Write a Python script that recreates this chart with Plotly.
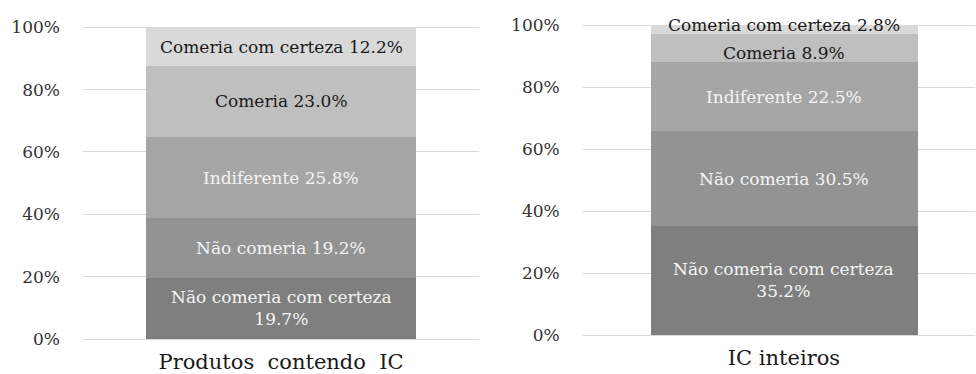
import plotly.graph_objects as go

categories = ["Não comeria com certeza", "Não comeria", "Indiferente", "Comeria", "Comeria com certeza"]
produtos_ic = [19.7, 19.2, 25.8, 23.0, 12.2]
ic_inteiros = [35.2, 30.5, 22.5, 8.9, 2.8]
panel_labels = ["Produtos  contendo  IC", "IC inteiros"]
tick_vals = [0, 20, 40, 60, 80, 100]
tick_text = ["0%", "20%", "40%", "60%", "80%", "100%"]

colors = ["#7f7f7f", "#939393", "#a6a6a6", "#bfbfbf", "#d9d9d9"]
text_colors = ["#f4f4f4", "#f4f4f4", "#f4f4f4", "#1a1a1a", "#1a1a1a"]
FONT = "DejaVu Serif"

label_texts = {
    0: ["Não comeria com certeza<br>19.7%", "Não comeria 19.2%", "Indiferente 25.8%",
        "Comeria 23.0%", "Comeria com certeza 12.2%"],
    1: ["Não comeria com certeza<br>35.2%", "Não comeria 30.5%", "Indiferente 22.5%",
        "Comeria 8.9%", "Comeria com certeza 2.8%"],
}

fig = go.Figure()
for p, (vals, lab) in enumerate([(produtos_ic, panel_labels[0]), (ic_inteiros, panel_labels[1])]):
    xa = "x" if p == 0 else "x2"
    ya = "y" if p == 0 else "y2"
    for i, cat in enumerate(categories):
        fig.add_trace(go.Bar(
            x=[lab], y=[vals[i]], name=cat, xaxis=xa, yaxis=ya,
            marker=dict(color=colors[i], line=dict(width=0)),
            width=0.68,
            showlegend=False,
            hoverinfo="skip",
        ))
    cum = 0
    for i, cat in enumerate(categories):
        mid = cum + vals[i] / 2
        cum += vals[i]
        ypos = mid
        if p == 1 and i == 4:
            ypos = 100.0
        if p == 1 and i == 3:
            ypos = mid - 1.5
        fig.add_annotation(
            x=lab, y=ypos, xref=xa, yref=ya, text=label_texts[p][i],
            showarrow=False, font=dict(family=FONT, size=17, color=text_colors[i]),
            align="center",
        )

shift = 0.013
fig.update_layout(
    barmode="stack",
    width=976, height=374,
    margin=dict(l=0, r=0, t=0, b=0),
    paper_bgcolor="white", plot_bgcolor="white",
    font=dict(family=FONT, size=17, color="#333333"),
    bargap=0,
    xaxis=dict(domain=[0.085, 0.491], showgrid=False, zeroline=False, automargin=False,
               tickfont=dict(family=FONT, size=21, color="#1a1a1a"), ticks="", showline=False,
               ticklabelstandoff=8),
    xaxis2=dict(domain=[0.597, 0.999], showgrid=False, zeroline=False, anchor="y2", automargin=False,
                range=[-0.5 - shift, 0.5 - shift],
                tickfont=dict(family=FONT, size=21, color="#1a1a1a"), ticks="", showline=False,
                ticklabelstandoff=8),
    yaxis=dict(domain=[1 - 339 / 374, 1 - 26 / 374], range=[0, 100.4], tickvals=tick_vals,
               ticktext=tick_text, gridcolor="#d9d9d9", gridwidth=1, zeroline=True,
               zerolinecolor="#d9d9d9", zerolinewidth=1, automargin=False,
               tickfont=dict(family=FONT, size=17, color="#333333"), ticks="",
               ticklabelstandoff=22),
    yaxis2=dict(domain=[1 - 335 / 374, 1 - 24 / 374], range=[0, 100.4], tickvals=tick_vals,
                ticktext=tick_text, gridcolor="#d9d9d9", gridwidth=1, zeroline=True,
                zerolinecolor="#d9d9d9", zerolinewidth=1, anchor="x2", automargin=False,
                tickfont=dict(family=FONT, size=17, color="#333333"), ticks="",
                ticklabelstandoff=22),
)

fig.write_html("out.html")
